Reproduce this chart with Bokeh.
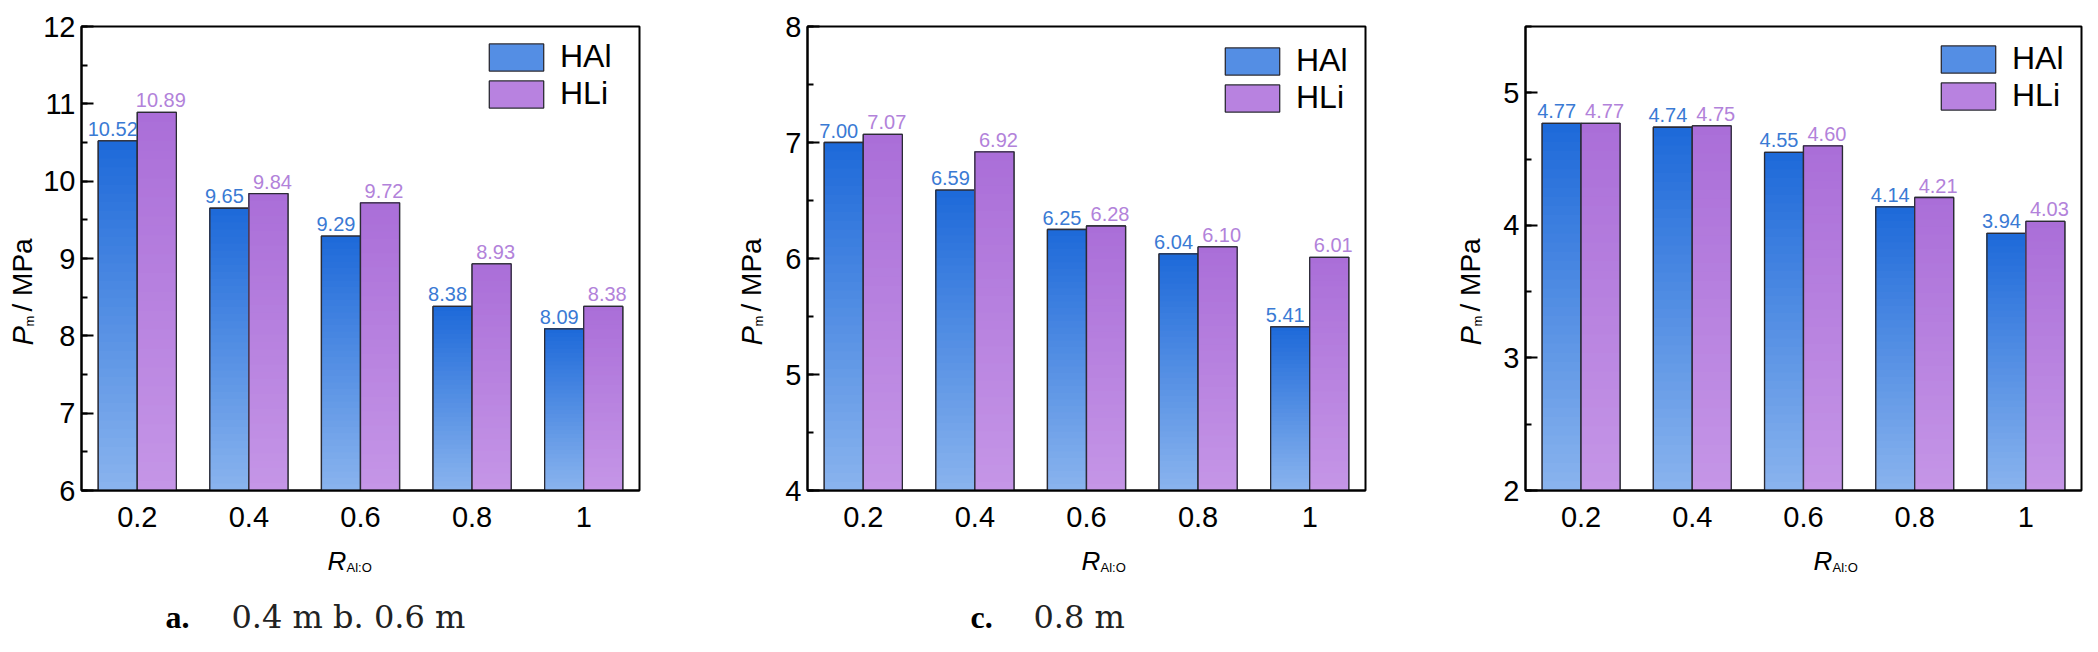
import numpy as np
from bokeh.plotting import figure
from bokeh.models import (ColumnDataSource, FactorRange, Range1d, SingleIntervalTicker,
                          Legend, LegendItem, LabelSet, Label)
from bokeh.core.properties import value
from bokeh.transform import dodge
from bokeh.layouts import row, column
from bokeh.embed import file_html
from bokeh.resources import INLINE

# ---------------- data ----------------
categories = ["0.2", "0.4", "0.6", "0.8", "1"]
series_names = ["HAl", "HLi"]
hal_04 = [10.52, 9.65, 9.29, 8.38, 8.09]
hli_04 = [10.89, 9.84, 9.72, 8.93, 8.38]
hal_06 = [7.00, 6.59, 6.25, 6.04, 5.41]
hli_06 = [7.07, 6.92, 6.28, 6.10, 6.01]
hal_08 = [4.77, 4.74, 4.55, 4.14, 3.94]
hli_08 = [4.77, 4.75, 4.60, 4.21, 4.03]
y_limits = [(6, 12), (4, 8), (2, 5.5)]
caption_tags = ["a.", "c.", None]
caption_texts = ["0.4 m b. 0.6 m", "0.8 m", None]
x_title_main, x_title_sub = "R", "Al:O"
y_title_main, y_title_sub, y_title_unit = "P", "m", "/ MPa"

panels = [(hal_04, hli_04), (hal_06, hli_06), (hal_08, hli_08)]

# ---------------- style ----------------
SANS = "Liberation Sans"
HAL_TOP, HAL_BOT = (29, 105, 217), (138, 180, 238)
HLI_TOP, HLI_BOT = (170, 110, 216), (197, 150, 231)
HAL_TXT, HLI_TXT = "#3a7ad4", "#b282da"
EDGE = "#2b2b35"
N = 40
BW = 0.35

# layout (page pixels)
panel_start = [8, 686, 1412]          # left edge of each panel block
frame_left = [88, 814, 1532]          # left edge of each plot frame
frame_w = [558, 558, 556]
border_right = [40, 40, 2]
MAIN_LEFT = 40                        # room for y tick labels
TOP = 26
FRAME_H = 464
MAIN_BOTTOM = 50                      # room for x tick labels
BOTTOM_H = 96                         # strip below for x title / caption
legend_left = [401, 411, 409]
legend_top = [10, 14, 12]
xlab_x = [247, 274, 288]
ylab_x = [-58, -56, -55]
cap_tag_x = [85, 163, None]
cap_txt_x = [151, 226, None]


def hexc(c):
    return "#%02x%02x%02x" % tuple(int(round(v)) for v in c)


def lerp(c1, c2, t):
    return hexc([a + (b - a) * t for a, b in zip(c1, c2)])


def grad_source(vals, lo, top_rgb, bot_rgb):
    xs, bottoms, tops, colors = [], [], [], []
    for k in range(N):
        t = k / N
        col = lerp(bot_rgb, top_rgb, (k + 0.5) / N)
        for c, v in zip(categories, vals):
            xs.append(c)
            bottoms.append(lo + (v - lo) * t)
            tops.append(v)
            colors.append(col)
    return ColumnDataSource(dict(x=xs, bottom=bottoms, top=tops, color=colors))


def text_fig(w, h):
    f = figure(frame_width=w, frame_height=h, x_range=Range1d(0, w), y_range=Range1d(0, h),
               x_axis_type=None, y_axis_type=None, min_border=0,
               output_backend="svg", toolbar_location=None,
               background_fill_color="white", border_fill_color="white")
    f.outline_line_color = None
    return f


def put(f, x, y, color="black", **kw):
    f.add_layout(Label(x=x, y=y, text_baseline="alphabetic", text_align="left",
                       text_color=color, **kw))


blocks = []
for i, (hal, hli) in enumerate(panels):
    lo, hi = y_limits[i]
    p = figure(x_range=FactorRange(factors=categories, range_padding=0),
               y_range=Range1d(lo, hi),
               frame_width=frame_w[i], frame_height=FRAME_H,
               min_border_left=MAIN_LEFT, min_border_right=border_right[i],
               min_border_top=TOP, min_border_bottom=MAIN_BOTTOM,
               output_backend="svg", toolbar_location=None,
               background_fill_color="white", border_fill_color="white")
    p.xgrid.visible = False
    p.ygrid.visible = False
    p.outline_line_color = "black"
    p.outline_line_width = 2
    p.outline_line_alpha = 1

    legend_items = []
    for name, vals, off, top_rgb, bot_rgb, txt_col, xoff in [
            (series_names[0], hal, -BW / 2, HAL_TOP, HAL_BOT, HAL_TXT, -5),
            (series_names[1], hli, BW / 2, HLI_TOP, HLI_BOT, HLI_TXT, 4)]:
        src = ColumnDataSource(dict(x=categories, top=vals, bottom=[lo] * len(vals),
                                    lbl=["%.2f" % v for v in vals]))
        base = p.vbar(x=dodge("x", off, range=p.x_range), width=BW, top="top",
                      bottom="bottom", source=src,
                      fill_color=lerp(bot_rgb, top_rgb, 0.5), line_color=EDGE,
                      line_width=1.3)
        gsrc = grad_source(vals, lo, top_rgb, bot_rgb)
        p.vbar(x=dodge("x", off, range=p.x_range), width=BW, top="top", bottom="bottom",
               source=gsrc, fill_color="color", line_color=None)
        p.vbar(x=dodge("x", off, range=p.x_range), width=BW, top="top", bottom="bottom",
               source=src, fill_alpha=0, line_color=EDGE, line_width=1.3)
        labels = LabelSet(x=dodge("x", off, range=p.x_range), y="top", text="lbl",
                          source=src, text_align="center", text_baseline="alphabetic",
                          y_offset=5, x_offset=xoff, text_font=value(SANS),
                          text_font_size=value("20px"), text_color=value(txt_col))
        p.add_layout(labels)
        legend_items.append(LegendItem(label=name, renderers=[base]))

    leg_h = 78
    legend = Legend(items=legend_items,
                    location=(legend_left[i], FRAME_H - (legend_top[i] - 2) - leg_h),
                    glyph_width=68, glyph_height=34, label_standoff=10, spacing=0,
                    padding=0, margin=0, border_line_alpha=0, background_fill_alpha=0,
                    label_text_font=SANS, label_text_font_size="32px",
                    label_text_color="black")
    p.add_layout(legend)

    ya = p.yaxis[0]
    ya.ticker = SingleIntervalTicker(interval=1, num_minor_ticks=2)
    ya.major_tick_in = 12
    ya.major_tick_out = 0
    ya.minor_tick_in = 6
    ya.minor_tick_out = 0
    ya.major_tick_line_width = 2
    ya.minor_tick_line_width = 2
    ya.axis_line_width = 2
    ya.major_label_standoff = 6
    ya.major_label_text_font = SANS
    ya.major_label_text_font_size = "29px"
    ya.major_label_text_color = "black"
    xa = p.xaxis[0]
    xa.major_tick_line_color = None
    xa.minor_tick_line_color = None
    xa.axis_line_width = 2
    xa.major_label_standoff = 10
    xa.major_label_text_font = SANS
    xa.major_label_text_font_size = "29px"
    xa.major_label_text_color = "black"

    # ---- strip left of the plot: y-axis title ----
    lw = frame_left[i] - MAIN_LEFT - panel_start[i]
    left_h = TOP + FRAME_H + MAIN_BOTTOM
    fl = text_fig(lw, left_h)
    ox = frame_left[i] - panel_start[i]       # frame-relative -> strip x
    oy = MAIN_BOTTOM                          # frame-relative -> strip y
    put(fl, ox + ylab_x[i], oy + 171, text=y_title_main, text_font=SANS,
        text_font_style="italic", text_font_size="29px", angle=np.pi / 2)
    put(fl, ox + ylab_x[i] + 7, oy + 190, text=y_title_sub, text_font=SANS,
        text_font_size="13px", angle=np.pi / 2)
    put(fl, ox + ylab_x[i], oy + 205, text=y_title_unit, text_font=SANS,
        text_font_size="28px", angle=np.pi / 2)

    # ---- strip below: x-axis title and caption ----
    bw = lw + MAIN_LEFT + frame_w[i] + border_right[i]
    fb = text_fig(bw, BOTTOM_H)
    by = BOTTOM_H + MAIN_BOTTOM               # frame-relative -> strip y
    put(fb, ox + xlab_x[i], by - 70, text=x_title_main, text_font=SANS,
        text_font_style="italic", text_font_size="26px")
    put(fb, ox + xlab_x[i] + 19, by - 77, text=x_title_sub, text_font=SANS,
        text_font_size="13px")
    if caption_tags[i] is not None:
        put(fb, ox + cap_tag_x[i], by - 126, text=caption_tags[i],
            text_font="Liberation Serif", text_font_style="bold", text_font_size="32px")
        put(fb, ox + cap_txt_x[i], by - 126, text=caption_texts[i],
            text_font="DejaVu Serif", text_font_size="32px", color="#222222")

    blocks.append(column(row(fl, p, spacing=0), fb, spacing=0))

layout = row(*blocks, spacing=0)
open("out.html", "w").write(file_html(layout, INLINE))
